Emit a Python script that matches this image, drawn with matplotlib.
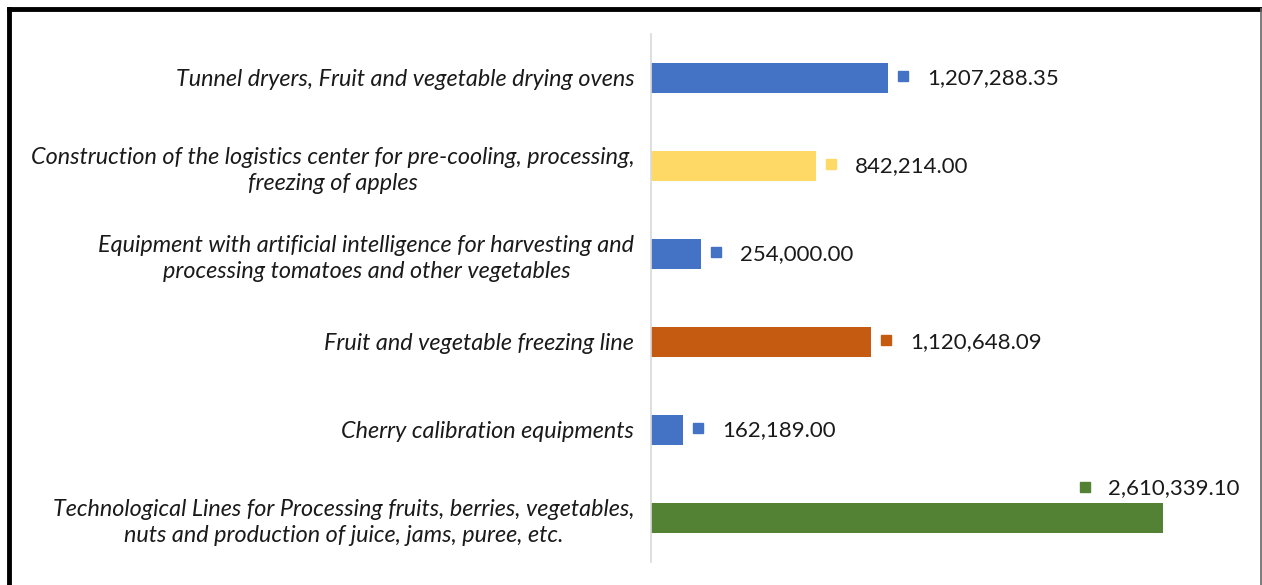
import matplotlib
matplotlib.use('Agg')
import matplotlib.pyplot as plt
import matplotlib.transforms as mtransforms
from matplotlib.lines import Line2D

plt.rcParams['font.family'] = ['Lato', 'DejaVu Sans']

# data, top to bottom as drawn
categories = [
    'Tunnel dryers, Fruit and vegetable drying ovens',
    'Construction of the logistics center for pre-cooling, processing,\nfreezing of apples',
    'Equipment with artificial intelligence for harvesting and\nprocessing tomatoes and other vegetables',
    'Fruit and vegetable freezing line',
    'Cherry calibration equipments',
    'Technological Lines for Processing fruits, berries, vegetables,\nnuts and production of juice, jams, puree, etc.',
]
values = [1207288.35, 842214.00, 254000.00, 1120648.09, 162189.00, 2610339.10]
colors = ['#4472C4', '#FFD966', '#4472C4', '#C55A11', '#4472C4', '#548235']

fig = plt.figure(figsize=(12.62, 5.85), dpi=100)
ax = fig.add_axes([651 / 1262, 1 - 562 / 585, (1240 - 651) / 1262, (562 - 34) / 585])

ypos = list(range(len(categories)))
ax.barh(ypos, values, height=0.35, color=colors)
ax.set_ylim(len(categories) - 0.5, -0.5)
ax.set_xlim(0, 3000000)

ax.set_yticks(ypos)
ax.set_yticklabels(categories, fontsize=16.8, style='italic', color='#1a1a1a',
                   multialignment='center', linespacing=1.3)
ax.tick_params(axis='y', length=0, pad=12)
ax.set_xticks([])
for s in ['top', 'right', 'bottom']:
    ax.spines[s].set_visible(False)
ax.spines['left'].set_color('#D9D9D9')
ax.spines['left'].set_linewidth(1.2)

# data labels: small square key + value
for i, (v, c) in enumerate(zip(values, colors)):
    if i == len(values) - 1:
        mx, my, tx, ty = -78, 31, -55, 30   # label sits above the long bar
    else:
        mx, my, tx, ty = 15, 2, 39, 0
    tr = mtransforms.offset_copy(ax.transData, fig=fig, x=mx, y=my, units='dots')
    ax.plot([v], [i], marker='s', markersize=7.2, color=c, transform=tr, clip_on=False)
    ax.annotate(f'{v:,.2f}', xy=(v, i), xytext=(tx, ty), textcoords='offset pixels',
                fontsize=16, color='#1a1a1a', va='center', ha='left',
                annotation_clip=False)

# outer frame
fig.add_artist(Line2D([9 / 1262, 1], [1 - 9 / 585, 1 - 9 / 585], color='black', lw=3.5,
                      transform=fig.transFigure))
fig.add_artist(Line2D([9 / 1262, 9 / 1262], [0, 1 - 9 / 585], color='black', lw=3.5,
                      transform=fig.transFigure))
fig.add_artist(Line2D([1261 / 1262, 1261 / 1262], [0, 1 - 9 / 585], color='#666666', lw=1.2,
                      transform=fig.transFigure))

plt.savefig('out.png', dpi=100)
plt.close()
